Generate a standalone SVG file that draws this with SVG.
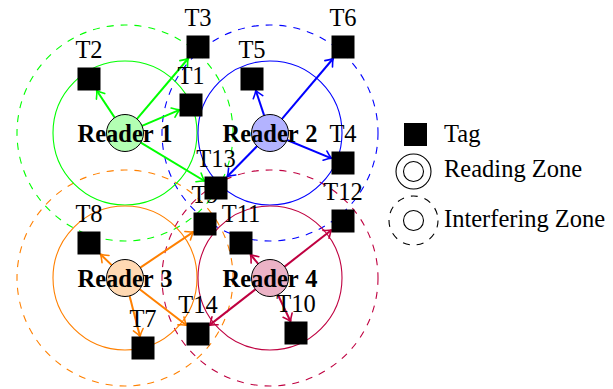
<svg xmlns="http://www.w3.org/2000/svg" width="613" height="389" viewBox="0 0 613 389">
  <style>
    .zone { fill: none; stroke-width: 1.1; }
    .intf { fill: none; stroke-width: 1.1; stroke-dasharray: 7 7; }
    .link { fill: none; stroke-width: 2; }
    .tag { fill: #000; }
    .lbl { font-family: "Liberation Serif", "Times New Roman", serif; font-size: 24.5px; fill: #000; text-anchor: middle; }
    .rlbl { font-family: "Liberation Serif", "Times New Roman", serif; font-size: 24.5px; font-weight: bold; fill: #000; text-anchor: middle; word-spacing: 1px; }
    .leg { font-family: "Liberation Serif", "Times New Roman", serif; font-size: 24.5px; fill: #000; }
    .reader { stroke: #000; stroke-width: 1; }
  </style>
  <defs>
    <marker id="ahG" markerUnits="userSpaceOnUse" markerWidth="14" markerHeight="14" viewBox="-8 -7 10 14" refX="0" refY="0" orient="auto" overflow="visible">
      <path d="M-7,-5 Q-2.5,-1.2 0,0 Q-2.5,1.2 -7,5" fill="none" stroke="#00ff00" stroke-width="1.6" stroke-linecap="round"/>
    </marker>
    <marker id="ahB" markerUnits="userSpaceOnUse" markerWidth="14" markerHeight="14" viewBox="-8 -7 10 14" refX="0" refY="0" orient="auto" overflow="visible">
      <path d="M-7,-5 Q-2.5,-1.2 0,0 Q-2.5,1.2 -7,5" fill="none" stroke="#0000ff" stroke-width="1.6" stroke-linecap="round"/>
    </marker>
    <marker id="ahO" markerUnits="userSpaceOnUse" markerWidth="14" markerHeight="14" viewBox="-8 -7 10 14" refX="0" refY="0" orient="auto" overflow="visible">
      <path d="M-7,-5 Q-2.5,-1.2 0,0 Q-2.5,1.2 -7,5" fill="none" stroke="#ff8000" stroke-width="1.6" stroke-linecap="round"/>
    </marker>
    <marker id="ahP" markerUnits="userSpaceOnUse" markerWidth="14" markerHeight="14" viewBox="-8 -7 10 14" refX="0" refY="0" orient="auto" overflow="visible">
      <path d="M-7,-5 Q-2.5,-1.2 0,0 Q-2.5,1.2 -7,5" fill="none" stroke="#bf0040" stroke-width="1.6" stroke-linecap="round"/>
    </marker>
  </defs>

  <rect width="613" height="389" fill="#fff"/>

  <!-- interfering zones -->
  <g id="interfering-zones">
    <circle class="intf" cx="125" cy="133" r="108" stroke="#00ff00"/>
    <circle class="intf" cx="270" cy="133" r="108" stroke="#0000ff"/>
    <circle class="intf" cx="125" cy="278" r="108" stroke="#ff8000"/>
    <circle class="intf" cx="270" cy="278" r="108" stroke="#bf0040"/>
  </g>

  <!-- reading zones -->
  <g id="reading-zones">
    <circle class="zone" cx="125" cy="133" r="72" stroke="#00ff00"/>
    <circle class="zone" cx="270" cy="133" r="72" stroke="#0000ff"/>
    <circle class="zone" cx="125" cy="278" r="72" stroke="#ff8000"/>
    <circle class="zone" cx="270" cy="278" r="72" stroke="#bf0040"/>
  </g>

  <!-- reader-to-tag connectors -->
  <g id="connectors">
    <g stroke="#00ff00" marker-end="url(#ahG)">
      <line class="link" x1="114.7" y1="117.6" x2="96.7" y2="90.5"/>
      <line class="link" x1="137.0" y1="118.9" x2="188.2" y2="58.5"/>
      <line class="link" x1="142.0" y1="125.8" x2="179.5" y2="109.9"/>
      <line class="link" x1="140.8" y1="142.6" x2="204.5" y2="181.0"/>
    </g>
    <g stroke="#0000ff" marker-end="url(#ahB)">
      <line class="link" x1="264.1" y1="115.4" x2="255.8" y2="90.5"/>
      <line class="link" x1="282.0" y1="118.9" x2="333.2" y2="58.5"/>
      <line class="link" x1="287.1" y1="140.0" x2="331.5" y2="158.3"/>
      <line class="link" x1="257.0" y1="146.2" x2="227.3" y2="176.5"/>
    </g>
    <g stroke="#ff8000" marker-end="url(#ahO)">
      <line class="link" x1="111.7" y1="265.1" x2="100.5" y2="254.2"/>
      <line class="link" x1="140.3" y1="267.6" x2="193.5" y2="231.8"/>
      <line class="link" x1="139.7" y1="289.3" x2="186.5" y2="325.2"/>
      <line class="link" x1="129.6" y1="295.9" x2="140.0" y2="336.5"/>
    </g>
    <g stroke="#bf0040" marker-end="url(#ahP)">
      <line class="link" x1="258.2" y1="263.8" x2="250.5" y2="254.5"/>
      <line class="link" x1="284.6" y1="266.6" x2="331.5" y2="230.0"/>
      <line class="link" x1="255.4" y1="289.4" x2="209.5" y2="325.1"/>
      <line class="link" x1="277.9" y1="294.7" x2="290.6" y2="321.5"/>
    </g>
  </g>

  <!-- readers -->
  <g id="reader1">
    <circle class="reader" cx="125" cy="133" r="18.5" fill="#b3ffb3"/>
    <text class="rlbl" x="125" y="142">Reader 1</text>
  </g>
  <g id="reader2">
    <circle class="reader" cx="270" cy="133" r="18.5" fill="#b3b3ff"/>
    <text class="rlbl" x="270" y="142">Reader 2</text>
  </g>
  <g id="reader3">
    <circle class="reader" cx="125" cy="278" r="18.5" fill="#ffd9b3"/>
    <text class="rlbl" x="125" y="287">Reader 3</text>
  </g>
  <g id="reader4">
    <circle class="reader" cx="270" cy="278" r="18.5" fill="#ecb3c6"/>
    <text class="rlbl" x="270" y="287">Reader 4</text>
  </g>

  <!-- tags: 23x23 squares, label 10px above -->
  <g id="T1"><rect class="tag" x="179.5" y="93.5" width="23" height="23"/><text class="lbl" x="191" y="83.5">T1</text></g>
  <g id="T2"><rect class="tag" x="77.5" y="67.5" width="23" height="23"/><text class="lbl" x="89" y="57.5">T2</text></g>
  <g id="T3"><rect class="tag" x="186.5" y="35.5" width="23" height="23"/><text class="lbl" x="198" y="25.5">T3</text></g>
  <g id="T4"><rect class="tag" x="331.5" y="151.5" width="23" height="23"/><text class="lbl" x="343" y="141.5">T4</text></g>
  <g id="T5"><rect class="tag" x="240.5" y="67.5" width="23" height="23"/><text class="lbl" x="252" y="57.5">T5</text></g>
  <g id="T6"><rect class="tag" x="331.5" y="35.5" width="23" height="23"/><text class="lbl" x="343" y="25.5">T6</text></g>
  <g id="T7"><rect class="tag" x="131.5" y="336.5" width="23" height="23"/><text class="lbl" x="143" y="326.5">T7</text></g>
  <g id="T8"><rect class="tag" x="77.5" y="231.5" width="23" height="23"/><text class="lbl" x="89" y="221.5">T8</text></g>
  <g id="T9"><rect class="tag" x="193.5" y="212.5" width="23" height="23"/><text class="lbl" x="205" y="202.5">T9</text></g>
  <g id="T10"><rect class="tag" x="284.5" y="321.5" width="23" height="23"/><text class="lbl" x="296" y="311.5">T10</text></g>
  <g id="T11"><rect class="tag" x="229.5" y="231.5" width="23" height="23"/><text class="lbl" x="241" y="221.5">T11</text></g>
  <g id="T12"><rect class="tag" x="331.5" y="209.5" width="23" height="23"/><text class="lbl" x="343" y="199.5">T12</text></g>
  <g id="T13"><rect class="tag" x="204.5" y="176.5" width="23" height="23"/><text class="lbl" x="216" y="166.5">T13</text></g>
  <g id="T14"><rect class="tag" x="186.5" y="322.5" width="23" height="23"/><text class="lbl" x="198" y="312.5">T14</text></g>

  <!-- legend -->
  <g id="legend">
    <rect class="tag" x="404" y="123" width="23" height="23"/>
    <text class="leg" x="444" y="142">Tag</text>
    <circle cx="413.5" cy="171.5" r="17.5" fill="none" stroke="#000" stroke-width="1.1"/>
    <circle cx="413.5" cy="171.5" r="10" fill="none" stroke="#000" stroke-width="1.1"/>
    <text class="leg" x="444" y="177">Reading Zone</text>
    <circle cx="413.5" cy="220.5" r="24.5" fill="none" stroke="#000" stroke-width="1.1" stroke-dasharray="7 7"/>
    <circle cx="413.5" cy="220.5" r="10" fill="none" stroke="#000" stroke-width="1.1"/>
    <text class="leg" x="444" y="227">Interfering Zone</text>
  </g>
</svg>
